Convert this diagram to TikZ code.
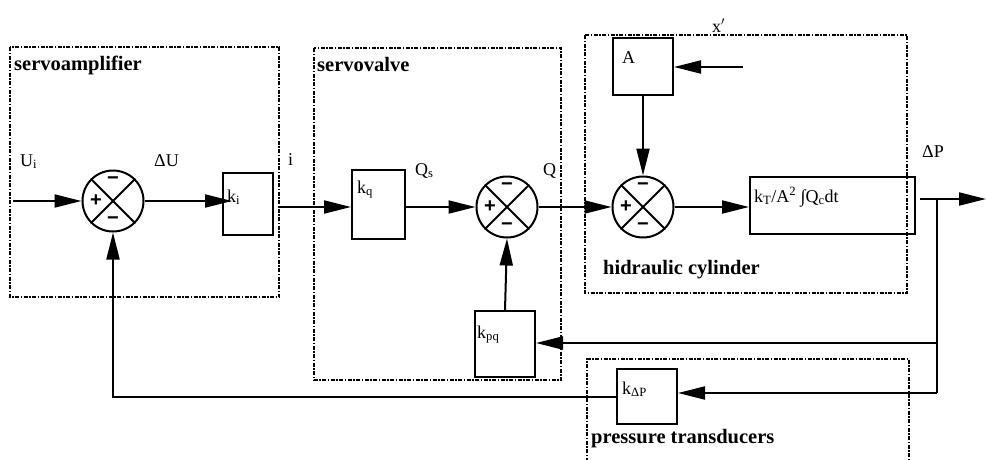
\documentclass[tikz,border=0pt]{standalone}
\usepackage{fontspec}
\setmainfont{Liberation Serif}
\newfontfamily\signfont{Liberation Sans}
\usetikzlibrary{arrows.meta,calc}
\tikzset{
  lw/.style={line width=2pt},
  grp/.style={line width=1.5pt, dash pattern=on 4pt off 1.5pt on 1.5pt off 1.5pt},
  blk/.style={draw, line width=2pt, inner sep=0pt},
  sumj/.style={draw, circle, line width=2pt, minimum size=61pt, inner sep=0pt},
  arr/.style={line width=2pt, -{Triangle[length=27pt,width=13pt]}},
  sig/.style={inner sep=0pt, anchor=base west, font=\fontsize{18}{20}\selectfont},
  grplbl/.style={inner sep=0pt, anchor=base west, font=\fontsize{20.5}{22}\selectfont\bfseries},
  sgn/.style={inner sep=0pt, font=\signfont\fontsize{20}{20}\selectfont\bfseries},
}
\newcommand\sumnode[2]{%
  \node[sumj] (#1) at (#2) {};
  \draw[lw] (#1.north west) -- (#1.south east) (#1.north east) -- (#1.south west);
  \node[sgn] (#1-p) at ([xshift=-17pt]#1.center) {+};
  \node[sgn] (#1-t) at ([yshift=20pt]#1.center) {−};
  \node[sgn] (#1-b) at ([yshift=-20pt]#1.center) {−};
}
\begin{document}
\begin{tikzpicture}[x=1pt,y=-1pt]
\useasboundingbox (0,0) rectangle (986,459);

% group frames
\draw[grp] (10,47) rectangle (279,297);
\draw[grp] (314,48) rectangle (561,380);
\draw[grp] (585,35) rectangle (907,293);
\draw[grp] (587,470) -- (587,359) -- (909,359) -- (909,470);

\node[grplbl] (gsa) at (14,70) {servoamplifier};
\node[grplbl] (gsv) at (317,71) {servovalve};
\node[grplbl] (ghc) at (603,274) {hidraulic cylinder};
\node[grplbl] (gpt) at (591,443) {pressure transducers};

% summing junctions
\sumnode{s1}{113,201}
\sumnode{s2}{507,207}
\sumnode{s3}{643,207}

% blocks
\node[blk, minimum width=50pt, minimum height=62pt] (ki) at (248,204) {};
\node[blk, minimum width=53pt, minimum height=69pt] (kq) at (378.5,204.5) {};
\node[blk, minimum width=60pt, minimum height=66pt] (kpq) at (505,344) {};
\node[blk, minimum width=60pt, minimum height=57pt] (A) at (643,66.5) {};
\node[blk, minimum width=165pt, minimum height=57pt] (kt) at (832.5,205.5) {};
\node[blk, minimum width=60pt, minimum height=55pt] (kdp) at (647,396.5) {};

% block labels
\node[sig] (lki) at (227,202) {k\textsubscript{i}};
\node[sig] (lkq) at (357,193) {k\textsubscript{q}};
\node[sig] (lkpq) at (477,338) {k\textsubscript{pq}};
\node[sig] (lA) at (622,63) {A};
\node[sig] (lkt) at (754,202) {k\textsubscript{T}/A\textsuperscript{2} ∫Q\textsubscript{c}dt};
\node[sig] (lkdp) at (622,394) {k\textsubscript{ΔP}};

% signal labels
\node[sig] (ui) at (20,166) {U\textsubscript{i}};
\node[sig] (du) at (154,166) {ΔU};
\node[sig] (il) at (288,165) {i};
\node[sig] (qs) at (415,175) {Q\textsubscript{s}};
\node[sig] (ql) at (543,175) {Q};
\node[sig] (xp) at (712,32) {x$'$};
\node[sig] (dp) at (922,157) {ΔP};

% coordinates
\coordinate (uin) at (13,201);
\coordinate (xin) at (743,67);
\coordinate (jout) at (920,199);
\coordinate (pout) at (986,199);
\coordinate (j1) at (937,199);
\coordinate (j2) at (937,343);
\coordinate (j3) at (937,393);

% connectors
\draw[arr] (uin) -- (s1.west);
\draw[arr, shorten >=-10pt] (s1.east) -- (ki.west |- s1.east);
\draw[arr, shorten <=4pt] (ki.east |- s2.west) -- (kq.west |- s2.west);
\draw[arr] (kq.east |- s2.west) -- (s2.west);
\draw[arr] (s2.east) -- (s3.west);
\draw[arr] (s3.east) -- (kt.west |- s3.east);
\draw[arr] (jout) -- (pout);
\draw[lw] (j1) -- (j3);
\draw[arr] (j2) -- (kpq.east |- j2);
\draw[arr] (j3) -- (kdp.east |- j3);
\draw[arr] (kdp.west) -- (s1 |- kdp.west) -- (s1.south);
\draw[arr] (kpq.north) -- (s2.south);
\draw[arr] (xin) -- (A.east |- xin);
\draw[arr] (A.south) -- (s3.north);
\end{tikzpicture}
\end{document}
